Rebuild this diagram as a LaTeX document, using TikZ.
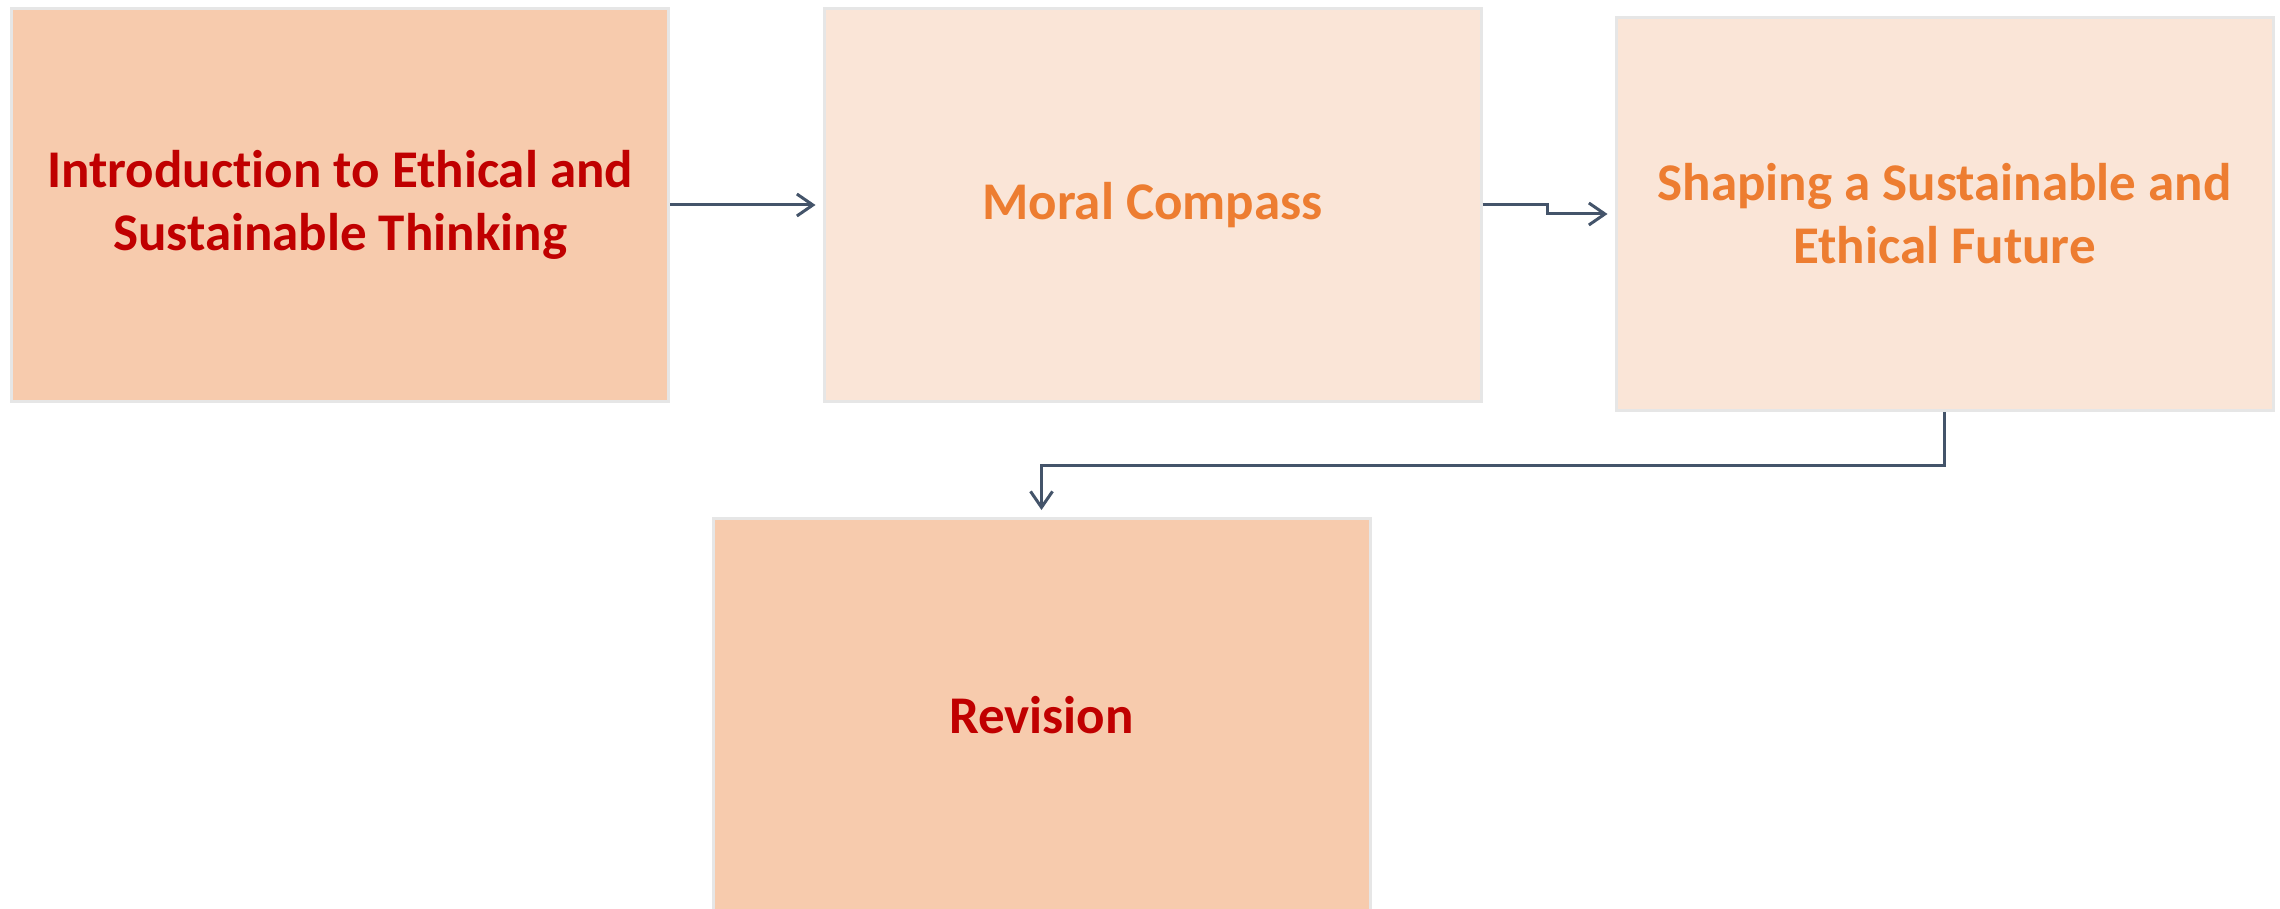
\documentclass[tikz,border=0pt]{standalone}
\usepackage{fontspec}
\setmainfont{Carlito}[Ligatures=NoCommon]
\usetikzlibrary{arrows.meta}
\definecolor{fillA}{HTML}{F7CBAD}
\definecolor{fillB}{HTML}{FAE5D7}
\definecolor{edgegray}{HTML}{E6E6E6}
\definecolor{txtred}{HTML}{C00000}
\definecolor{txtorange}{HTML}{ED7D31}
\definecolor{arrowcol}{HTML}{44546A}
\tikzset{
  box/.style={draw=edgegray, line width=3pt, minimum width=657pt, minimum height=393pt,
    inner sep=0pt, align=center, font=\fontsize{53}{63}\selectfont\bfseries},
  boxA/.style={box, fill=fillA, text=txtred},
  boxB/.style={box, fill=fillB, text=txtorange},
  conn/.style={draw=arrowcol, line width=3pt, -{Straight Barb[length=16pt,width=22pt,line width=3pt]}, shorten >=7pt}
}
\begin{document}
\begin{tikzpicture}[x=1pt,y=-1pt]
\useasboundingbox (0,0) rectangle (2280,909);
\node[boxA] (intro) at (340,205) {Introduction to Ethical and\\Sustainable Thinking};
\node[boxB] (moral) at (1152.5,205) {Moral Compass};
\node[boxB] (shape) at (1944.5,214) {Shaping a Sustainable and\\Ethical Future};
\node[boxA] (rev) at (1041.5,715) {Revision};
\draw[conn] (intro.east) -- (moral.west);
\draw[conn] (moral.east) -- ++(65,0) coordinate (k1) |- (shape.west);
\draw[conn] (shape.south) -- ++(0,53) coordinate (k2) -| (rev.north);
\end{tikzpicture}
\end{document}
